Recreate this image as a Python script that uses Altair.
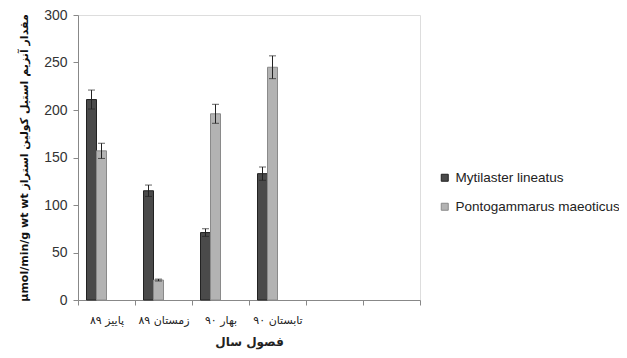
import altair as alt
import pandas as pd

categories = ["پاییز ۸۹", "زمستان ۸۹", "بهار ۹۰", "تابستان ۹۰"]
empty_slots = [" ", "  "]
series = ["Mytilaster lineatus", "Pontogammarus maeoticus"]
offset_slots = series + ["_a", "_b"]

mytilaster = [211, 115, 71, 133]
mytilaster_err = [10, 6, 4, 7]
pontogammarus = [157, 21, 196, 245]
pontogammarus_err = [8, 1, 10, 12]

rows = []
for i, c in enumerate(categories):
    rows.append({"cat": c, "series": series[0], "value": mytilaster[i], "err": mytilaster_err[i]})
    rows.append({"cat": c, "series": series[1], "value": pontogammarus[i], "err": pontogammarus_err[i]})
df = pd.DataFrame(rows)
df["lo"] = df["value"] - df["err"]
df["hi"] = df["value"] + df["err"]

x_enc = alt.X("cat:N", sort=categories + empty_slots,
              scale=alt.Scale(domain=categories + empty_slots, paddingInner=0, paddingOuter=0),
              axis=alt.Axis(title="فصول سال", labelAngle=0, tickBand="extent", tickSize=5,
                            labelPadding=9, labelFont="DejaVu Sans", labelFontSize=11,
                            labelColor="#222", titleFont="DejaVu Sans", titleFontSize=12,
                            titleFontWeight="bold", titlePadding=11, titleColor="#222",
                            domainColor="#888", tickColor="#888"))
xo_enc = alt.XOffset("series:N", scale=alt.Scale(domain=offset_slots, paddingInner=0, paddingOuter=0.85))

y_enc = alt.Y("value:Q", scale=alt.Scale(domain=[0, 300]),
              axis=alt.Axis(title="µmol/min/g wt wt مقدار آنزیم استیل کولین استراز",
                            values=[0, 50, 100, 150, 200, 250, 300], grid=False,
                            tickSize=5, labelPadding=6, labelFont="Liberation Sans",
                            labelFontSize=14, labelColor="#333", domainColor="#888",
                            tickColor="#888", titleFont="DejaVu Sans", titleFontSize=11,
                            titleFontWeight="bold", titleColor="#111", titlePadding=14))

color = alt.Color("series:N", scale=alt.Scale(domain=series, range=["#4a4a4a", "#b3b3b3"]),
                  legend=alt.Legend(title=None, orient="none", legendX=360, legendY=156,
                                    symbolType="square", symbolSize=49, symbolStrokeWidth=1,
                                    symbolStrokeColor="#333", labelFont="Liberation Sans",
                                    labelFontSize=13.5, labelColor="#222", rowPadding=14,
                                    labelOffset=4, padding=0, labelLimit=300))

base = alt.Chart(df)

bars = base.mark_bar(strokeWidth=1).encode(
    x=x_enc, xOffset=xo_enc, y=y_enc, color=color,
    stroke=alt.Stroke("series:N", scale=alt.Scale(domain=series, range=["#222222", "#8a8a8a"]), legend=None),
)

rules = base.mark_rule(color="#222", strokeWidth=1).encode(
    x=alt.X("cat:N", sort=categories + empty_slots), xOffset=alt.XOffset("series:N"),
    y="lo:Q", y2="hi:Q")

caps_hi = base.mark_tick(color="#222", size=7, thickness=1).encode(
    x=alt.X("cat:N", sort=categories + empty_slots), xOffset=alt.XOffset("series:N"), y="hi:Q")
caps_lo = base.mark_tick(color="#222", size=7, thickness=1).encode(
    x=alt.X("cat:N", sort=categories + empty_slots), xOffset=alt.XOffset("series:N"), y="lo:Q")

chart = alt.layer(bars, rules, caps_hi, caps_lo).properties(
    width=342, height=285,
    autosize=alt.AutoSizeParams(type="none"),
    padding={"left": 70, "top": 7, "right": 199, "bottom": 50},
).configure_view(stroke=None).configure(background="white")

chart.save("out.html", embed_options={"renderer": "svg", "actions": False})
